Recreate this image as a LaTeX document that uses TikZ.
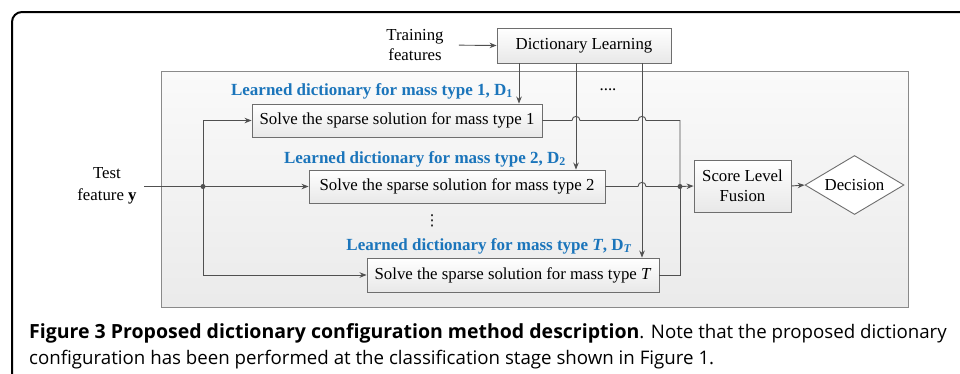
\documentclass[tikz,border=0pt]{standalone}
\usepackage{fontspec}
\setmainfont{Liberation Serif}
\newfontfamily\capfont{Open Sans}
\newfontfamily\symfont{DejaVu Sans}
\usetikzlibrary{shapes.geometric,arrows.meta}
\definecolor{lblblue}{HTML}{1B75BB}
\definecolor{linegray}{HTML}{505050}
\definecolor{boxborder}{HTML}{6E6E6E}
\definecolor{panelborder}{HTML}{8A8A8A}
\begin{document}
\begin{tikzpicture}[x=1pt,y=-1pt,
  font=\fontsize{16.8}{20}\selectfont,
  stepbox/.style={draw=boxborder, line width=0.9pt, top color=white, bottom color=black!9, inner sep=0pt, minimum height=33pt},
  conn/.style={draw=linegray, line width=0.9pt},
  arr/.style={conn, -{Stealth[length=7pt,width=5.5pt]}},
  lbl/.style={text=lblblue, font=\fontsize{17}{20}\selectfont\bfseries, inner sep=0pt},
  jdot/.style={circle, fill=linegray, inner sep=0pt, minimum size=5pt},
  captext/.style={font=\capfont\fontsize{18.7}{22}\selectfont, inner sep=0pt, anchor=base west},
]
\useasboundingbox (0,0) rectangle (960,373);
\begin{scope}
\clip (0,0) rectangle (960,373);
\draw[line width=2pt, rounded corners=10pt] (12,12) rectangle (1000,420);
\end{scope}
% panel
\node[draw=panelborder, line width=0.9pt, top color=black!2, bottom color=black!8, minimum width=747pt, minimum height=236pt, inner sep=0pt] (panel) at (534.5,189) {};
% training
\node[align=center, inner sep=0pt] (train) at (415,45) {Training\\features};
\node[stepbox, minimum width=174pt, minimum height=35pt] (dl) at (584,45.5) {Dictionary Learning};
\draw[arr, shorten <=15pt] (train.east) -- (dl.west);
\node[inner sep=0pt] (dots) at (608,90) {....};
% labels
\node[lbl, anchor=east] (l1) at (513,91) {Learned dictionary for mass type 1, D\textsubscript{1}};
\node[lbl, anchor=east] (l2) at (566,159) {Learned dictionary for mass type 2, D\textsubscript{2}};
\node[lbl, anchor=east] (lT) at (632,246) {Learned dictionary for mass type \textit{T}, D\textsubscript{\textit{T}}};
% boxes
\node[stepbox, minimum width=290pt] (box1) at (397,120.5) {Solve the sparse solution for mass type 1};
\node[stepbox, minimum width=296pt] (box2) at (457,186.5) {Solve the sparse solution for mass type 2};
\node[stepbox, minimum width=292pt, minimum height=34pt] (boxT) at (513,275) {Solve the sparse solution for mass type \textit{T}};
\node[inner sep=0pt, font=\symfont\fontsize{15}{15}\selectfont] (vd) at (432,221) {⋮};
% test feature
\node[align=center, inner sep=0pt, font=\fontsize{16.8}{22}\selectfont] (test) at (107,186) {Test\\feature \textbf{y}};
\coordinate (inp) at (144,186.5);
\node[jdot] (jn) at (203,186.5) {};
\draw[arr] (inp) -- (box2.west);
\draw[arr] (jn.center) |- (box1.west);
\draw[arr] (jn.center) |- (boxT.west);
% dictionary arrows
\draw[arr] ([xshift=-65pt]dl.south) -- ([xshift=-65pt]dl.south |- box1.north);
\draw[arr] ([xshift=-8pt]dl.south) -- ([xshift=-8pt]dl.south |- box2.north);
\draw[arr] ([xshift=58pt]dl.south) -- ([xshift=58pt]dl.south |- boxT.north);
% fusion
\node[stepbox, minimum width=97pt, minimum height=52pt, align=center] (score) at (742.5,186) {Score Level\\Fusion};
\node[diamond, draw=boxborder, line width=0.9pt, fill=white, aspect=1.7, inner sep=0pt, minimum width=99pt, minimum height=59pt] (dec) at (854.5,185) {Decision};
\node[jdot] (fj) at (680,186.5) {};
% outputs with hops
\draw[conn] (box1.east) -- (572,120.5) .. controls (572,115) and (580,115) .. (580,120.5) -- (638,120.5) .. controls (638,115) and (646,115) .. (646,120.5) -- (680,120.5) -- (fj.center);
\draw[conn] (box2.east) -- (638,186.5) .. controls (638,181) and (646,181) .. (646,186.5) -- (fj.center);
\draw[conn] (boxT.east) -| (fj.center);
\draw[arr] (fj.center) -- (score.west);
\draw[arr] (score.east) -- (dec.west);
% caption
\node[captext] (cap1) at (29,338) {{\fontsize{19.5}{22}\selectfont\bfseries Figure 3 Proposed dictionary configuration method description}. Note that the proposed dictionary};
\node[captext] (cap2) at (29,364) {configuration has been performed at the classification stage shown in Figure 1.};
\end{tikzpicture}
\end{document}
